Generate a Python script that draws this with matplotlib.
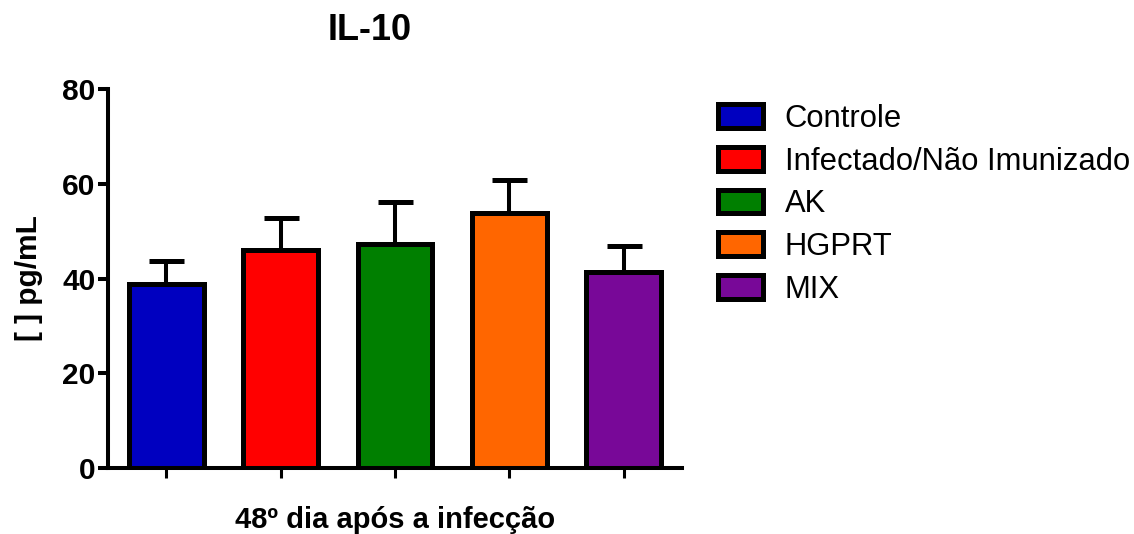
import matplotlib
matplotlib.use("Agg")
import matplotlib.pyplot as plt

groups = ["Controle", "Infectado/Não Imunizado", "AK", "HGPRT", "MIX"]
means = [38.9, 46.0, 47.3, 53.8, 41.3]
sem = [4.8, 6.8, 8.8, 7.0, 5.6]
colors = ["#0000C0", "#FF0000", "#007F00", "#FF6600", "#780898"]
yticks = [0, 20, 40, 60, 80]

plt.rcParams["font.family"] = ["Liberation Sans", "DejaVu Sans"]

fig = plt.figure(figsize=(11.34, 5.34), dpi=100)
ax = fig.add_axes([108 / 1134, 1 - 468 / 534, (682 - 108) / 1134, (468 - 89) / 534])

x = list(range(len(groups)))
ax.errorbar(x, means, yerr=[[0] * len(sem), sem], fmt="none", ecolor="black",
            elinewidth=2.9, capsize=12.6, capthick=3.6, zorder=1)
ax.bar(x, means, width=0.655, color=colors, edgecolor="black",
       linewidth=3.6, zorder=2)

ax.set_xlim(-0.51, 4.51)
ax.set_ylim(0, 80)
ax.set_yticks(yticks)
ax.set_xticks(x)
ax.set_xticklabels([])
ax.spines["top"].set_visible(False)
ax.spines["right"].set_visible(False)
ax.spines["left"].set_linewidth(2.9)
ax.spines["bottom"].set_linewidth(2.9)
ax.tick_params(axis="y", length=7, width=2.9, pad=2, labelsize=21.5)
ax.tick_params(axis="x", length=7, width=2.2)
for lab in ax.get_yticklabels():
    lab.set_fontweight("bold")

ax.set_ylabel("[ ] pg/mL", fontsize=21.5, fontweight="bold", labelpad=14)
ax.set_xlabel("48º dia após a infecção", fontsize=21, fontweight="bold", labelpad=17)
fig.text(370 / 1134, 1 - 30 / 534, "IL-10", fontsize=26, fontweight="bold",
         ha="center", va="center")

handles = [plt.Rectangle((0, 0), 1, 1, facecolor=c, edgecolor="black", linewidth=3.6)
           for c in colors]
fig.legend(handles, groups, loc="upper left", bbox_to_anchor=(718 / 1134, 1 - 104 / 534),
           frameon=False, fontsize=22.3, handlelength=1.45, handleheight=0.8,
           handletextpad=0.7, labelspacing=0.41, borderpad=0, borderaxespad=0)

fig.savefig("out.png", dpi=100)
